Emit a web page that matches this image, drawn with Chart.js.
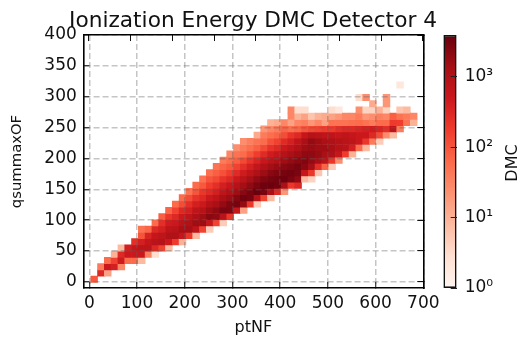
<!DOCTYPE html>
<html>
<head>
<meta charset="utf-8">
<script src="https://cdn.jsdelivr.net/npm/chart.js@4/dist/chart.umd.min.js"></script>
<style>
html,body{margin:0;padding:0;background:#fff;}
canvas{position:absolute;top:0;}
</style>
</head>
<body>
<canvas id="main" width="506" height="344" style="left:0"></canvas>
<canvas id="bar" width="91" height="344" style="left:430px"></canvas>
<script>
const titleText = 'Ionization Energy DMC Detector 4';
const xLabel = 'ptNF';
const yLabel = 'qsummaxOF';
const barLabel = 'DMC';
const xTicks = [0,100,200,300,400,500,600,700];
const yTicks = [0,50,100,150,200,250,300,350,400];
const barTicks = [1,10,100,1000];
const barMax = 3900;
const xBinStart = 3, xBinWidth = 14.25;
const yBinStart = -1, yBinHeight = 10.16;
// first row of each column
const colStart = [0,1,1,2,2,3,3,3,4,4,5,5,6,6,7,7,8,8,9,9,10,11,11,12,12,13,13,14,14,15,15,16,16,17,18,18,19,20,20,21,21,22,22,23,23,24,25,25];
// counts per column, bottom row upward
const colCounts = [
[90],
[300,40],
[15,500,60],
[400,150,10],
[30,450,300,8],
[60,500,400],
[60,500,600,250],
[8,500,700,400,100,50],
[35,700,600,350,70],
[3,300,800,600,300,60],
[150,900,700,400,250,80],
[8,500,1000,700,450,200,70],
[180,1000,800,500,300,150,60],
[10,600,1200,800,500,300,120,60],
[200,1300,1000,700,400,250,120,50],
[8,700,1500,1100,700,400,220,100,60],
[150,1600,1500,900,500,300,200,90,50],
[5,600,2200,1500,900,500,280,170,100,55],
[150,2000,2000,1200,700,400,250,130,80,50],
[5,800,2800,1800,1200,700,400,220,110,70,40],
[200,2600,2500,1600,1000,550,300,170,90,55,30],
[600,3000,2400,1500,900,500,280,150,80,50,25],
[15,1800,3300,2200,1400,800,450,250,130,60,40,25],
[200,3000,3000,2000,1300,700,400,220,100,55,35],
[5,900,3600,2800,1900,1100,650,350,170,80,50,12],
[150,3000,3400,2500,1600,1000,550,280,130,60,40,20],
[8,1200,3600,3000,2200,1400,800,450,230,110,55,30,10],
[300,3300,3200,2500,1700,1000,600,300,150,70,40,12],
[20,1200,3500,3000,2200,1500,900,500,280,120,70,30],
[200,2800,3200,2500,1800,1200,700,400,220,55,15,30,30],
[300,2000,2800,3000,2200,1500,1000,700,300,70,30,10,3],
[8,600,2200,2500,2000,1500,1200,600,100,35,15,3],
[4,200,1300,1800,2000,1700,1800,900,130,20,6],
[6,250,1300,1700,1500,1500,800,150,30,10],
[70,800,1200,1500,1200,700,170,15,12],
[5,200,1100,1200,1100,700,180,50,15,3],
[25,600,900,900,600,250,50,20,2],
[170,800,800,700,300,50,30],
[10,400,700,600,300,55,30],
[60,500,500,350,60,40,25,0,3],
[8,200,500,400,50,20,4,0,25],
[40,300,450,40,25,4,12],
[5,120,350,60,35,10],
[25,250,60,30,4,20,20],
[8,700,180,80],
[40,170,50,6,0,0,0,2],
[50,40,8],
[10,30]
];

const redsStops = [[255,245,240],[254,224,210],[252,187,161],[252,146,114],[251,106,74],[239,59,44],[203,24,29],[165,15,21],[103,0,13]];
function reds(t){
  t = Math.max(0,Math.min(1,t))*(redsStops.length-1);
  const i = Math.min(Math.floor(t),redsStops.length-2), f = t-i;
  const c = redsStops[i].map((v,k)=>Math.round(v+(redsStops[i+1][k]-v)*f));
  return `rgb(${c[0]},${c[1]},${c[2]})`;
}
const logColor = v => reds(Math.log10(Math.max(v,1))/Math.log10(barMax));

const cells = [];
colCounts.forEach((col,i)=>col.forEach((v,k)=>{
  if(v<=0) return;
  const j = colStart[i]+k;
  cells.push({x:xBinStart+xBinWidth*(i+0.5), y:[yBinStart+yBinHeight*j, yBinStart+yBinHeight*(j+1)], v});
}));

const fontFam = '"DejaVu Sans"';
const inkColor = '#111';
const tickLen = -6;
const gridStyle = {color:'rgba(95,95,95,0.36)',lineWidth:1.5,tickColor:inkColor,tickWidth:1,tickLength:tickLen,z:1};
const edgeGrid = {drawOnChartArea:false,tickColor:inkColor,tickWidth:1,tickLength:tickLen,z:1};
const borderStyle = {color:'#000',width:1.6,z:2,dash:[6,3]};

new Chart(document.getElementById('main'),{
  type:'bar',
  data:{datasets:[{
    data:cells,
    backgroundColor:c=>c.raw?logColor(c.raw.v):'#fff',
    borderWidth:0,
    barPercentage:1,categoryPercentage:1,grouped:false
  }]},
  options:{
    responsive:false,animation:false,
    layout:{padding:0},
    plugins:{
      legend:{display:false},tooltip:{enabled:false},
      title:{display:true,text:titleText,color:'#111',font:{family:fontFam,size:21.7,weight:'normal'},padding:{top:8,bottom:1}}
    },
    scales:{
      x:{type:'linear',position:'bottom',min:-12.6,max:700,offset:false,
        grid:{...gridStyle,offset:false},border:borderStyle,
        afterBuildTicks:s=>{s.ticks=xTicks.map(value=>({value}));},
        afterFit:s=>{s.height=56;},
        ticks:{color:'#111',font:{family:fontFam,size:17},padding:11,maxRotation:0,autoSkip:false,includeBounds:false,callback:v=>String(v)},
        title:{display:true,text:xLabel,color:'#111',font:{family:fontFam,size:16},padding:{top:0,bottom:6.4}}
      },
      y:{type:'linear',position:'left',min:-10,max:400,
        grid:gridStyle,border:borderStyle,
        afterBuildTicks:s=>{s.ticks=yTicks.map(value=>({value}));},
        afterFit:s=>{s.width=83.3;},
        ticks:{color:'#111',font:{family:fontFam,size:17},padding:12.5,autoSkip:false,includeBounds:false,callback:v=>String(v)},
        title:{display:true,text:yLabel,color:'#111',font:{family:fontFam,size:14.8},padding:{top:8.5,bottom:0}}
      },
      xTop:{type:'linear',position:'top',min:-12.6,max:700,
        grid:edgeGrid,border:{color:'#000',width:1.6,z:2},
        afterBuildTicks:s=>{s.ticks=xTicks.map(value=>({value}));},
        afterFit:s=>{s.height=0;},
        ticks:{display:true,autoSkip:false,callback:()=>''}
      },
      yRight:{type:'linear',position:'right',min:-10,max:400,
        grid:edgeGrid,border:{color:'#000',width:1.6,z:2},
        afterBuildTicks:s=>{s.ticks=yTicks.map(value=>({value}));},
        afterFit:s=>{s.width=82.7;},
        ticks:{display:true,autoSkip:false,callback:()=>''}
      }
    }
  }
});

const supers = {1000:'10³',100:'10²',10:'10¹',1:'10⁰'};
const rotatedLabel = {
  id:'rotatedLabel',
  afterDraw(chart){
    const c = chart.ctx;
    c.save();
    c.translate(83,163);
    c.rotate(-Math.PI/2);
    c.font = '16px '+fontFam;
    c.fillStyle = '#111';
    c.textAlign = 'center';
    c.textBaseline = 'middle';
    c.fillText(barLabel,0,0);
    c.restore();
  }
};
new Chart(document.getElementById('bar'),{
  type:'bar',
  data:{labels:[''],datasets:[{
    data:[[1,barMax]],
    backgroundColor:c=>{
      const a = c.chart.chartArea;
      if(!a) return '#fff';
      const g = c.chart.ctx.createLinearGradient(0,a.bottom,0,a.top);
      redsStops.forEach((s,i)=>g.addColorStop(i/(redsStops.length-1),`rgb(${s[0]},${s[1]},${s[2]})`));
      return g;
    },
    borderColor:'#111',borderWidth:1.7,borderSkipped:false,inflateAmount:0,
    barPercentage:1,categoryPercentage:1
  }]},
  options:{
    responsive:false,animation:false,
    layout:{padding:{left:13.3,right:0,top:35,bottom:56}},
    plugins:{legend:{display:false},tooltip:{enabled:false}},
    scales:{
      x:{display:false},
      y:{type:'logarithmic',position:'right',min:1,max:barMax,
        grid:{drawOnChartArea:false,tickColor:'#222',tickWidth:1,tickLength:tickLen,z:3},
        border:{display:false},
        afterBuildTicks:s=>{s.ticks=barTicks.map(value=>({value}));},
        afterFit:s=>{s.width=64.3;},
        ticks:{color:'#111',font:{family:fontFam,size:17},padding:14,autoSkip:false,callback:v=>supers[v]||''}
      }
    }
  },
  plugins:[rotatedLabel]
});
</script>
</body>
</html>
